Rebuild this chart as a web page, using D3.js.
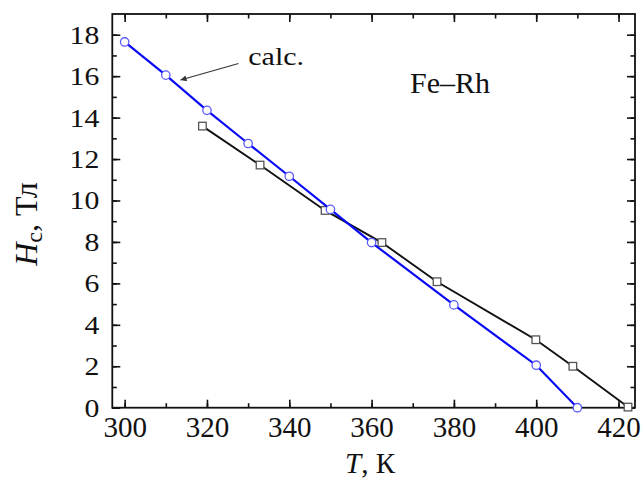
<!DOCTYPE html>
<html>
<head>
<meta charset="utf-8">
<script src="https://cdn.jsdelivr.net/npm/d3@7"></script>
<style>
  body { margin: 0; background: #fff; }
  text { font-family: "Liberation Serif", "Times New Roman", serif; fill: #111; }
</style>
</head>
<body>
<script>
// calculated curve (blue circles)
var calcT = [300, 310, 320, 330, 340, 350, 360, 380, 400, 410];
var calcH = [17.65, 16.05, 14.35, 12.75, 11.17, 9.57, 7.97, 4.96, 2.05, 0];

// experiment (black squares)
var expT = [318.9, 332.9, 348.7, 362.5, 375.9, 399.9, 408.9, 422.3];
var expH = [13.59, 11.71, 9.52, 7.97, 6.08, 3.28, 2.0, 0.03];

var xTicks = [300, 320, 340, 360, 380, 400, 420];
var yTicks = [0, 2, 4, 6, 8, 10, 12, 14, 16, 18];

var W = 641, H = 480;
var pLeft = 112.3, pTop = 14, pRight = 635, pBottom = 407.7;

var svg = d3.select('body').append('svg')
                .attr('width', W)
                .attr('height', H);

var x = d3.scaleLinear().domain([297, 424]).range([pLeft, pRight]);
var y = d3.scaleLinear().domain([0, 19]).range([pBottom, pTop]);

var minorX = d3.range(300, 424, 10);
var minorY = d3.range(0, 19, 1);

// tick marks only, pointing inward
function ticks(g, axis, vals, size) {
    g.call(axis.tickValues(vals).tickSizeInner(-size).tickSizeOuter(0).tickFormat(''));
    g.select('.domain').remove();
    g.selectAll('line').attr('stroke', '#111').attr('stroke-width', 1.6);
}
[[d3.axisBottom(x), 'translate(0,' + pBottom + ')', minorX],
 [d3.axisTop(x), 'translate(0,' + pTop + ')', minorX],
 [d3.axisLeft(y), 'translate(' + pLeft + ',0)', minorY],
 [d3.axisRight(y), 'translate(' + pRight + ',0)', minorY]].forEach(function(a){
    svg.append('g').attr('transform', a[1]).call(ticks, a[0], a[2], 4.5);
});
[[d3.axisTop(x), 'translate(0,' + pTop + ')', xTicks],
 [d3.axisRight(y), 'translate(' + pRight + ',0)', yTicks]].forEach(function(a){
    svg.append('g').attr('transform', a[1]).call(ticks, a[0], a[2], 8);
});

// bottom axis with labels
var gx = svg.append('g').attr('transform', 'translate(0,' + pBottom + ')')
            .call(d3.axisBottom(x).tickValues(xTicks).tickSizeInner(-8).tickSizeOuter(0));
gx.select('.domain').remove();
gx.selectAll('line').attr('stroke', '#111').attr('stroke-width', 1.6);
gx.selectAll('text').attr('font-size', 29).attr('y', 29).attr('dy', null)
    .attr('font-family', '"Liberation Serif", serif').attr('fill', '#111');

// left axis with labels (glyphs look stretched sideways in the source)
var gy = svg.append('g').attr('transform', 'translate(' + pLeft + ',0)')
            .call(d3.axisLeft(y).tickValues(yTicks).tickSizeInner(-8).tickSizeOuter(0));
gy.select('.domain').remove();
gy.selectAll('line').attr('stroke', '#111').attr('stroke-width', 1.6);
gy.selectAll('text').attr('font-size', 25).attr('x', -13 / 1.19).attr('dy', '0.34em')
    .attr('transform', 'scale(1.19,1)')
    .attr('font-family', '"Liberation Serif", serif').attr('fill', '#111');

// frame
svg.append('rect')
    .attr('x', pLeft).attr('y', pTop)
    .attr('width', pRight - pLeft).attr('height', pBottom - pTop)
    .attr('fill', 'none').attr('stroke', '#111').attr('stroke-width', 1.8);

var line = d3.line().x(function(d){ return x(d[0]); }).y(function(d){ return y(d[1]); });

var expData = expT.map(function(t, i){ return [t, expH[i]]; });
var calcData = calcT.map(function(t, i){ return [t, calcH[i]]; });

svg.append('path').datum(expData).attr('d', line)
    .attr('fill', 'none').attr('stroke', '#111').attr('stroke-width', 1.9);

svg.selectAll('rect.sq').data(expData).enter().append('rect')
    .attr('class', 'sq')
    .attr('x', function(d){ return x(d[0]) - 3.8; })
    .attr('y', function(d){ return y(d[1]) - 3.8; })
    .attr('width', 7.6).attr('height', 7.6)
    .attr('fill', '#fff').attr('stroke', '#555').attr('stroke-width', 1.3);

svg.append('path').datum(calcData).attr('d', line)
    .attr('fill', 'none').attr('stroke', '#0a0af5').attr('stroke-width', 2.2);

svg.selectAll('circle').data(calcData).enter().append('circle')
    .attr('cx', function(d){ return x(d[0]); })
    .attr('cy', function(d){ return y(d[1]); })
    .attr('r', 4.2)
    .attr('fill', '#fff').attr('stroke', '#5a5aff').attr('stroke-width', 1.3);

// annotation arrow
var defs = svg.append('defs');
defs.append('marker').attr('id', 'arr')
    .attr('viewBox', '0 0 10 10').attr('refX', 10).attr('refY', 5)
    .attr('markerWidth', 9).attr('markerHeight', 6).attr('orient', 'auto')
    .attr('markerUnits', 'userSpaceOnUse')
    .append('path').attr('d', 'M0,0L10,5L0,10z').attr('fill', '#333');

svg.append('line')
    .attr('x1', 238.5).attr('y1', 63.5).attr('x2', 180.5).attr('y2', 80)
    .attr('stroke', '#333').attr('stroke-width', 1.1)
    .attr('marker-end', 'url(#arr)');

svg.append('text').attr('transform', 'translate(248.3,65) scale(1.2,1)')
    .attr('font-size', 25).text('calc.');

svg.append('text').attr('x', 410).attr('y', 93.3)
    .attr('font-size', 30).text('Fe–Rh');

// axis titles
var xt = svg.append('text').attr('x', 345).attr('y', 473).attr('font-size', 29);
xt.append('tspan').attr('font-style', 'italic').text('T');
xt.append('tspan').text(', К');

var yt = svg.append('text').attr('transform', 'translate(37,224) rotate(-90)')
    .attr('text-anchor', 'middle').attr('font-size', 32);
yt.append('tspan').attr('font-style', 'italic').text('H');
yt.append('tspan').attr('font-size', 24).attr('dy', 5).text('c');
yt.append('tspan').attr('dy', -5).text(', Тл');
</script>
</body>
</html>
